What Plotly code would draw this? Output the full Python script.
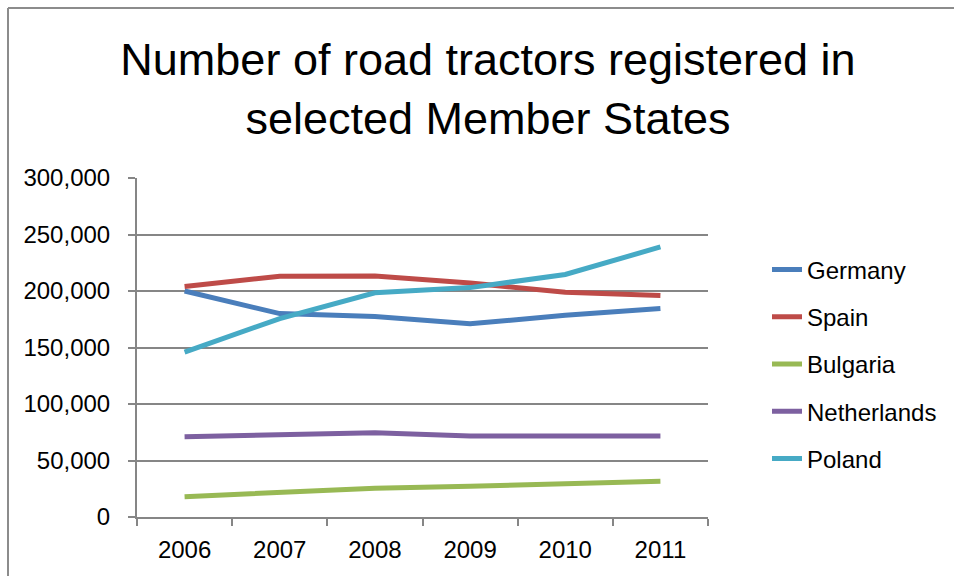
import plotly.graph_objects as go

years = ["2006", "2007", "2008", "2009", "2010", "2011"]
germany = [200000, 180000, 177500, 171000, 178500, 184500]
spain = [204000, 213000, 213300, 207000, 199000, 196000]
bulgaria = [18000, 21600, 25400, 27200, 29000, 31600]
netherlands = [71000, 72700, 74500, 71600, 71600, 71600]
poland = [146000, 175600, 198400, 203000, 214600, 239000]

series = [
    ("Germany", germany, "#4A7EBB"),
    ("Spain", spain, "#BE4B48"),
    ("Bulgaria", bulgaria, "#98B954"),
    ("Netherlands", netherlands, "#7D60A0"),
    ("Poland", poland, "#46AAC5"),
]

fig = go.Figure()
for i, (name, vals, color) in enumerate(series):
    fig.add_trace(go.Scatter(
        x=years, y=vals, name=name, mode="lines",
        line=dict(color=color, width=5),
        legendgroup=f"g{i}",
    ))

axis_color = "#868686"
frame_color = "#8c8c8c"
W, H = 954, 576
PL, PR, PT, PB = 137, 708, 178, 517
pw, ph = PR - PL, PB - PT
fx0 = (8 - PL) / pw
fy1 = 1 + (PT - 8) / ph
fig.update_layout(
    width=W, height=H,
    margin=dict(l=PL, r=W - PR, t=PT, b=H - PB, autoexpand=False),
    paper_bgcolor="white", plot_bgcolor="white",
    title=dict(
        text="Number of road tractors registered in<br>selected Member States",
        x=488 / W, xref="container", xanchor="center",
        y=1 - 75 / H, yref="container", yanchor="middle",
        font=dict(family="Liberation Sans, Arial", size=45, color="black"),
    ),
    font=dict(family="Liberation Sans, Arial", size=24, color="black"),
    showlegend=True,
    legend=dict(
        x=(767 - PL) / pw, xref="paper", xanchor="left",
        y=(PB - 364) / ph, yanchor="middle",
        font=dict(size=24, color="black"),
        tracegroupgap=13,
        bgcolor="rgba(0,0,0,0)",
    ),
    xaxis=dict(
        type="category", tickson="boundaries", range=[-0.5, 5.5],
        showline=True, linecolor=axis_color, linewidth=2,
        ticks="outside", ticklen=7, tickcolor=axis_color, tickwidth=2,
        showgrid=False, ticklabelstandoff=10, automargin=False,
        tickfont=dict(size=24),
    ),
    yaxis=dict(
        range=[0, 300000], dtick=50000, tickformat=",",
        showline=True, linecolor=axis_color, linewidth=2,
        ticks="outside", ticklen=7, tickcolor=axis_color, tickwidth=2,
        showgrid=True, gridcolor=axis_color, gridwidth=2,
        zeroline=False, ticklabelstandoff=13, automargin=False,
        tickfont=dict(size=24),
    ),
    shapes=[
        dict(type="line", xref="paper", yref="paper",
             x0=fx0, x1=fx0, y0=-(H - PB) / ph, y1=fy1,
             line=dict(color=frame_color, width=2), layer="below"),
        dict(type="line", xref="paper", yref="paper",
             x0=fx0, x1=(W - PL) / pw, y0=fy1, y1=fy1,
             line=dict(color=frame_color, width=2), layer="below"),
    ],
)

fig.write_html("out.html", config={"displayModeBar": False},
               post_script="document.body.style.margin='0px';")
